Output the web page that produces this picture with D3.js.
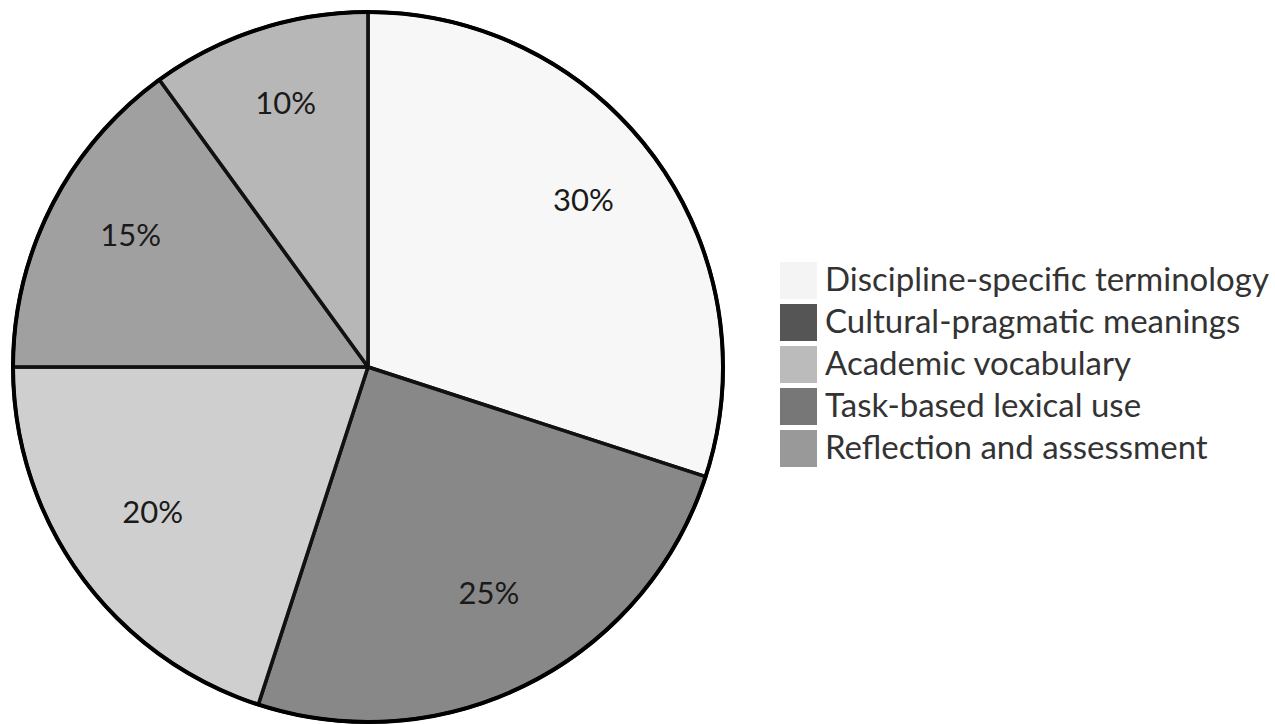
<!DOCTYPE html>
<html>
<head>
<meta charset="utf-8">
<script src="https://cdn.jsdelivr.net/npm/d3@7"></script>
<style>
  body { margin: 0; background: #fff; }
</style>
</head>
<body>
<div id="chart"></div>
<script>
// data
const labels = ["Discipline-specific terminology", "Cultural-pragmatic meanings", "Academic vocabulary", "Task-based lexical use", "Reflection and assessment"];
const values = [30, 25, 20, 15, 10];
const colors = ["#f4f4f4", "#555555", "#bbbbbb", "#777777", "#999999"];

const width = 1275;
const height = 724;
const cx = 368, cy = 367;
const radius = 355;
const font = "Lato, 'Open Sans', sans-serif";

const data = labels.map((l, i) => ({label: l, value: values[i], color: colors[i]}));

const svg = d3.select("#chart").append("svg")
    .attr("width", width)
    .attr("height", height);

const g = svg.append("g").attr("transform", `translate(${cx},${cy})`);

// keep data order, start at 12 o'clock going clockwise
const pie = d3.pie().value(d => d.value).sort(null);
const arc = d3.arc().innerRadius(0).outerRadius(radius);
const labelArc = d3.arc().innerRadius(radius * 0.75).outerRadius(radius * 0.75);

const total = d3.sum(values);

g.selectAll("path.slice")
  .data(pie(data))
  .join("path")
    .attr("class", "slice")
    .attr("d", arc)
    .attr("fill", d => d.data.color)
    .attr("fill-opacity", 0.7)
    .attr("stroke", "#111")
    .attr("stroke-width", 3.5)
    .attr("stroke-linejoin", "round");

// outer ring
g.append("circle")
    .attr("r", radius)
    .attr("fill", "none")
    .attr("stroke", "#000")
    .attr("stroke-width", 4);

g.selectAll("text.pct")
  .data(pie(data))
  .join("text")
    .attr("class", "pct")
    .attr("transform", d => `translate(${labelArc.centroid(d)})`)
    .attr("text-anchor", "middle")
    .style("font-family", font)
    .style("font-size", "31px")
    .attr("fill", "#1a1a1a")
    .text(d => Math.round(d.data.value / total * 100) + "%");

// legend
const legend = svg.append("g").attr("transform", "translate(780,262)");
const rows = legend.selectAll("g")
  .data(data)
  .join("g")
    .attr("transform", (d, i) => `translate(0,${i * 42})`);

rows.append("rect")
    .attr("x", 1).attr("y", 1)
    .attr("width", 35).attr("height", 35)
    .attr("fill", d => d.color)
    .attr("stroke", d => d.color)
    .attr("stroke-width", 2);

rows.append("text")
    .attr("x", 45)
    .attr("y", 29)
    .style("font-family", font)
    .style("font-size", "33px")
    .attr("fill", "#333")
    .text(d => d.label);
</script>
</body>
</html>
